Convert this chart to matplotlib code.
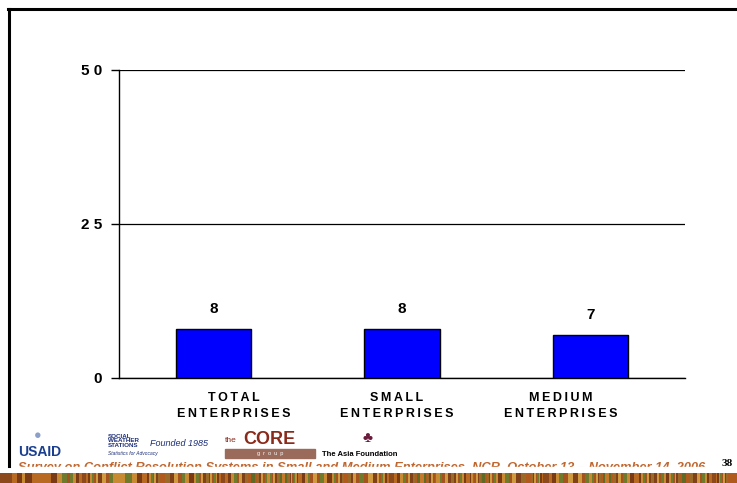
import matplotlib
matplotlib.use("Agg")
import matplotlib.pyplot as plt
from matplotlib.lines import Line2D
from matplotlib.colors import ListedColormap
from matplotlib.ticker import FuncFormatter
import numpy as np

plt.rcParams['font.family'] = ['Liberation Sans', 'DejaVu Sans']

categories = ['TOTAL\nENTERPRISES', 'SMALL\nENTERPRISES', 'MEDIUM\nENTERPRISES']
values = [8, 8, 7]
yticks = [0, 25, 50]
footer = 'Survey on Conflict Resolution Systems in Small and Medium Enterprises, NCR, October 13 \u2013 November 14, 2006'
page_no = '38'

# category captions sit a little off the bar centres
label_shift = [0.11, -0.03, -0.16]


def spaced(s, sep='\u2009'):
    # loose letter spacing, line by line
    return '\n'.join(sep.join(line) for line in s.split('\n'))


W, H = 737, 483
fig = plt.figure(figsize=(W / 100, H / 100), dpi=100)
fig.patch.set_facecolor('white')

ax = fig.add_axes([0.1615, 0.2174, 0.768, 0.638])
x = np.arange(len(categories))
bars = ax.bar(x, values, width=0.4, color='#0000FF', edgecolor='black', linewidth=1.0, zorder=3)
for b, v in zip(bars, values):
    ax.annotate(str(v), (b.get_x() + b.get_width() / 2, v), xytext=(0, 9),
                textcoords='offset points', ha='center', va='bottom',
                fontsize=11, fontweight='bold')

ax.set_xlim(-0.5, 2.5)
ax.set_ylim(0, 50)
ax.set_yticks(yticks)
ax.yaxis.set_major_formatter(FuncFormatter(lambda v, p: ' '.join(str(int(v)))))
ax.set_xticks(x + np.array(label_shift))
ax.set_xticklabels([spaced(c) for c in categories], fontsize=9, fontweight='bold', linespacing=1.45)
ax.tick_params(axis='x', length=0, pad=10)
ax.tick_params(axis='y', length=6, width=1, direction='out', pad=6, labelsize=11)
for lbl in ax.get_yticklabels():
    lbl.set_fontweight('bold')
ax.grid(axis='y', color='black', linewidth=0.9, zorder=0)
for s in ['top', 'right']:
    ax.spines[s].set_visible(False)
ax.spines['left'].set_linewidth(1.0)
ax.spines['bottom'].set_linewidth(1.0)

# slide frame
fig.add_artist(Line2D([8 / W, 1], [1 - 9 / H, 1 - 9 / H], color='black', lw=2.2))
fig.add_artist(Line2D([9 / W, 9 / W], [1 - 9 / H, 1 - 466 / H], color='black', lw=2.2))

# sponsor marks along the bottom
fig.text(18 / W, 1 - 452 / H, 'USAID', fontsize=10, fontweight='bold', color='#1a3f8f', va='center')
fig.text(38 / W, 1 - 436 / H, '\u25cf', fontsize=9, color='#8aa0c8', ha='center', va='center')
fig.text(108 / W, 1 - 441 / H, 'SOCIAL\nWEATHER\nSTATIONS', fontsize=4.5, fontweight='bold',
         color='#1d2f78', va='center', linespacing=0.95)
fig.text(150 / W, 1 - 443 / H, 'Founded 1985', fontsize=6.5, style='italic', color='#1d2f78', va='center')
fig.text(108 / W, 1 - 453 / H, 'Statistics for Advocacy', fontsize=3.5, style='italic', color='#1d2f78', va='center')
fig.text(225 / W, 1 - 440 / H, 'the', fontsize=6, color='#8a2a1a', va='center')
fig.text(243 / W, 1 - 439 / H, 'CORE', fontsize=13, fontweight='bold', color='#8a2a1a', va='center')
fig.patches.append(plt.Rectangle((225 / W, 1 - 458 / H), 90 / W, 9 / H,
                                 transform=fig.transFigure, color='#9a6a5a', zorder=1))
fig.text(270 / W, 1 - 453.5 / H, 'g  r  o  u  p', fontsize=4, color='white', ha='center', va='center', zorder=2)
fig.text(368 / W, 1 - 438 / H, '\u2663', fontsize=11, color='#6a1a3a', ha='center', va='center')
fig.text(322 / W, 1 - 455 / H, 'The Asia Foundation', fontsize=5.5, fontweight='bold', va='center')

# footer line, its lower half hidden under a white strip
fig.text(18 / W, 1 - 462 / H, footer, fontsize=9.3, fontweight='bold', style='italic',
         color='#c0662e', va='top', zorder=3)
fig.patches.append(plt.Rectangle((12 / W, 1 - 474 / H), 700 / W, 7.5 / H,
                                 transform=fig.transFigure, color='white', zorder=4))
fig.text(722 / W, 1 - 463 / H, page_no, fontsize=8, fontweight='bold', family='Liberation Serif',
         ha='left', va='center')

# textured band at the foot of the slide
band_colors = ['#8c4a1c', '#b86a22', '#7a3a14', '#c98a34', '#6f7a2c', '#a4521e',
               '#d09a40', '#804018', '#9a6a28', '#b05a1e', '#5f6a26', '#c47a2a']
band = np.array([[0, 3, 1, 2, 5, 0, 7, 3, 4, 1, 9, 6, 2, 8, 0, 5, 10, 3, 11, 1, 6, 2, 9, 4,
                  7, 0, 5, 11, 3, 8, 1, 10, 2, 6, 9, 0, 4, 7, 3, 11, 5, 1, 8, 2, 10, 6, 0, 9]])
bax = fig.add_axes([0, 0, 1, 10.5 / H], zorder=5)
bax.imshow(band, cmap=ListedColormap(band_colors), aspect='auto', interpolation='bilinear')
bax.axis('off')

fig.savefig('out.png', dpi=100)
